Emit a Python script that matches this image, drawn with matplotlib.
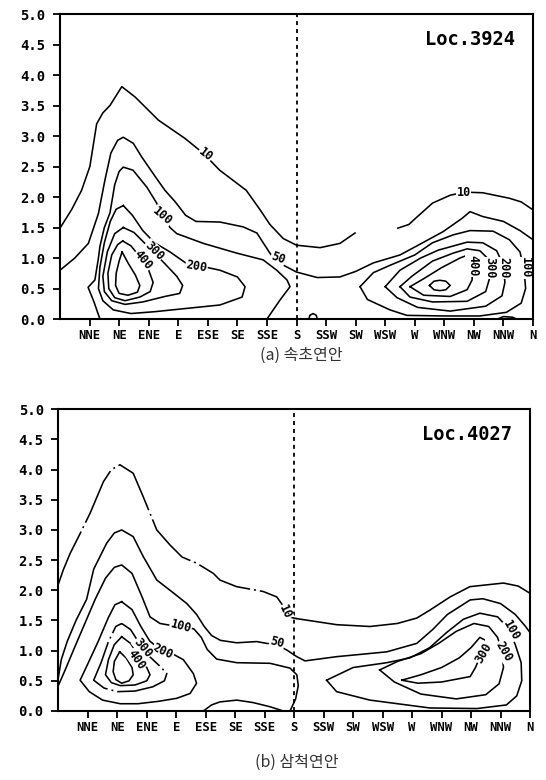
import matplotlib
matplotlib.use('Agg')
import matplotlib.pyplot as plt

# wave direction (x index, 0 = N at left edge) and wave height (m)
DIRS = ['NNE', 'NE', 'ENE', 'E', 'ESE', 'SE', 'SSE', 'S',
        'SSW', 'SW', 'WSW', 'W', 'WNW', 'NW', 'NNW', 'N']
HEIGHTS = [0.0, 0.5, 1.0, 1.5, 2.0, 2.5, 3.0, 3.5, 4.0, 4.5, 5.0]

# ---- (a) Loc.3924 : contour lines, (direction, height)
A_10_W = [(0, 1.49), (0.4, 1.8), (0.73, 2.11), (1.01, 2.5), (1.24, 3.2), (1.45, 3.38),
          (1.69, 3.5), (2.09, 3.81), (2.54, 3.64), (3.33, 3.26), (4.23, 2.96), (4.84, 2.72),
          (5.4, 2.44), (6.3, 2.11), (6.77, 1.79), (7.1, 1.55), (7.55, 1.32), (8.0, 1.21),
          (8.8, 1.17), (9.47, 1.24), (9.98, 1.41)]
A_10_E = [(11.43, 1.49), (11.8, 1.55), (12.07, 1.67), (12.6, 1.9), (13.2, 2.03), (13.7, 2.08),
          (14.3, 2.07), (15.2, 1.98), (15.6, 1.92), (16.0, 1.79)]
A_50 = [(0, 0.8), (0.5, 1.0), (0.96, 1.24), (1.3, 1.73), (1.52, 2.28), (1.72, 2.72),
        (1.95, 2.93), (2.14, 2.98), (2.48, 2.88), (2.76, 2.66), (3.2, 2.35), (3.55, 2.11),
        (3.9, 1.92), (4.25, 1.7), (4.6, 1.6), (5.41, 1.59), (6.2, 1.51), (6.66, 1.41),
        (7.1, 1.08), (7.33, 0.94), (8.0, 0.77), (8.7, 0.68), (9.47, 0.69), (10.0, 0.78),
        (10.6, 0.92), (11.5, 1.05), (12.0, 1.18), (12.95, 1.43), (13.6, 1.65), (13.87, 1.76),
        (14.3, 1.68), (15.0, 1.6), (15.56, 1.45), (16.0, 1.3)]
A_100_W = [(1.35, 0.0), (1.15, 0.28), (0.95, 0.52), (1.18, 0.64), (1.3, 1.0), (1.35, 1.19),
           (1.5, 1.5), (1.69, 1.74), (1.85, 2.2), (2.0, 2.42), (2.14, 2.49), (2.47, 2.44),
           (2.94, 2.16), (3.27, 1.9), (3.5, 1.67), (3.72, 1.5), (3.95, 1.4), (4.85, 1.24),
           (5.98, 1.08), (6.87, 0.97), (7.33, 0.8), (7.68, 0.64), (7.78, 0.53), (7.44, 0.31),
           (7.0, 0.0)]
A_200_W = [(2.14, 1.86), (2.45, 1.7), (2.8, 1.45), (3.2, 1.25), (3.72, 1.1), (4.28, 0.91),
           (4.74, 0.87), (5.41, 0.8), (6.0, 0.69), (6.26, 0.53), (6.16, 0.36), (5.41, 0.23),
           (4.2, 0.17), (3.2, 0.12), (2.4, 0.09), (1.8, 0.15), (1.45, 0.3), (1.3, 0.5),
           (1.35, 0.85), (1.5, 1.25), (1.7, 1.6), (1.9, 1.8), (2.14, 1.86)]
A_300_W = [(2.14, 1.5), (2.5, 1.42), (2.85, 1.25), (3.2, 1.08), (3.6, 0.88), (3.95, 0.7),
           (4.15, 0.55), (4.05, 0.42), (3.55, 0.37), (2.8, 0.28), (2.2, 0.24), (1.75, 0.3),
           (1.5, 0.45), (1.45, 0.7), (1.6, 1.1), (1.85, 1.4), (2.14, 1.5)]
A_400_W = [(2.12, 1.28), (2.4, 1.2), (2.7, 1.02), (3.0, 0.8), (3.15, 0.6), (3.05, 0.45),
           (2.7, 0.36), (2.2, 0.3), (1.85, 0.35), (1.65, 0.5), (1.62, 0.75), (1.75, 1.05),
           (1.95, 1.22), (2.12, 1.28)]
A_500_W = [(2.1, 1.1), (2.3, 0.92), (2.55, 0.72), (2.7, 0.55), (2.62, 0.44), (2.3, 0.39),
           (2.0, 0.42), (1.88, 0.55), (1.9, 0.75), (2.0, 0.95), (2.1, 1.1)]
A_100_E = [(10.15, 0.53), (10.6, 0.76), (11.16, 0.88), (12.0, 1.05), (12.6, 1.25), (13.3, 1.38),
           (13.87, 1.45), (14.65, 1.44), (15.2, 1.3), (15.56, 1.1), (15.7, 0.8), (15.75, 0.5),
           (15.6, 0.26), (15.1, 0.11), (14.2, 0.05), (13.0, 0.05), (11.73, 0.06), (11.16, 0.15),
           (10.4, 0.32), (10.15, 0.53)]
A_200_E = [(11.0, 0.53), (11.5, 0.8), (12.2, 1.0), (12.8, 1.13), (13.77, 1.26), (14.3, 1.25),
           (14.77, 1.12), (15.0, 0.88), (15.05, 0.6), (14.95, 0.38), (14.4, 0.21), (13.2, 0.13),
           (12.1, 0.19), (11.4, 0.35), (11.0, 0.53)]
A_300_E = [(11.5, 0.53), (11.9, 0.7), (12.6, 0.95), (13.3, 1.08), (13.77, 1.15), (14.2, 1.12),
           (14.5, 0.98), (14.55, 0.7), (14.4, 0.45), (13.77, 0.29), (12.6, 0.28), (11.84, 0.36),
           (11.5, 0.53)]
A_400_E = [(11.84, 0.53), (12.3, 0.66), (12.9, 0.84), (13.53, 1.0), (13.8, 1.05), (13.95, 0.85),
           (13.94, 0.64), (13.77, 0.48), (13.2, 0.37), (12.3, 0.39), (11.84, 0.53)]
A_500_E = [(12.5, 0.55), (12.65, 0.62), (12.85, 0.635), (13.05, 0.62), (13.2, 0.55),
           (13.05, 0.48), (12.85, 0.465), (12.65, 0.48), (12.5, 0.55)]
A_SMALL_1 = [(8.42, 0.0), (8.45, 0.06), (8.56, 0.09), (8.67, 0.06), (8.7, 0.0)]
A_SMALL_2 = [(14.8, 0.0), (15.0, 0.04), (15.3, 0.03), (15.45, 0.0)]
A_SOLID = [A_10_W, A_10_E, A_50, A_100_W, A_200_W, A_300_W, A_400_W, A_500_W,
           A_100_E, A_200_E, A_300_E, A_400_E, A_500_E, A_SMALL_1, A_SMALL_2]
A_DASHED = []

A_LABELS = [('10', 4.92, 2.7), ('100', 3.45, 1.68), ('200', 4.62, 0.87), ('300', 3.18, 1.12),
            ('400', 2.82, 0.97), ('50', 7.38, 1.0), ('10', 13.65, 2.07), ('400', 13.95, 0.88),
            ('300', 14.53, 0.84), ('200', 15.02, 0.84), ('100', 15.73, 0.84)]
A_LABEL_ROT = [-38, -40, -10, -45, -50, -20, 0, -90, -90, -90, -90]

# ---- (b) Loc.4027
B_10_W = [(0, 2.1), (0.17, 2.34), (0.4, 2.61), (0.74, 2.94), (1.08, 3.28), (1.53, 3.8),
          (1.8, 4.0), (2.09, 4.08), (2.54, 3.94), (2.88, 3.55), (3.34, 3.0), (3.79, 2.75),
          (4.2, 2.55), (4.69, 2.45), (5.26, 2.28), (5.48, 2.17), (6.05, 2.06), (6.95, 1.98),
          (7.41, 1.89), (7.6, 1.76), (7.75, 1.62), (7.9, 1.55), (8.09, 1.53)]
B_10_E = [(8.09, 1.53), (9.44, 1.43), (10.57, 1.4), (11.5, 1.45), (12.16, 1.54), (12.6, 1.67),
          (13.29, 1.89), (13.96, 2.06), (15.1, 2.12), (15.6, 2.07), (16.0, 1.95)]
B_50 = [(0, 0.55), (0.1, 0.85), (0.3, 1.15), (0.6, 1.5), (0.96, 1.85), (1.2, 2.35),
        (1.64, 2.78), (1.9, 2.95), (2.15, 3.0), (2.54, 2.89), (2.88, 2.56), (3.34, 2.17),
        (3.79, 2.0), (4.36, 1.78), (4.69, 1.6), (4.95, 1.4), (5.2, 1.25), (5.5, 1.17),
        (6.05, 1.13), (6.73, 1.15), (7.07, 1.12), (7.4, 1.1), (7.75, 1.01), (8.09, 0.9),
        (8.37, 0.83), (9.44, 0.9), (10.3, 0.94), (11.14, 0.98), (12.16, 1.12), (12.7, 1.35),
        (13.2, 1.6), (13.97, 1.84), (14.4, 1.86), (15.0, 1.78), (15.5, 1.6), (15.85, 1.4),
        (16.0, 1.3)]
B_100_W = [(0, 0.42), (0.25, 0.7), (0.55, 1.05), (0.9, 1.45), (1.25, 1.85), (1.6, 2.2),
           (1.9, 2.38), (2.15, 2.42), (2.5, 2.28), (2.85, 1.88), (3.11, 1.56), (3.45, 1.45),
           (3.8, 1.42), (4.2, 1.4), (4.6, 1.36), (4.85, 1.22), (5.05, 1.02), (5.37, 0.86),
           (6.05, 0.8), (7.18, 0.79), (7.86, 0.71), (8.09, 0.6), (8.14, 0.42), (8.05, 0.2),
           (7.86, 0.0)]
B_200_W = [(2.15, 1.81), (2.5, 1.68), (2.8, 1.4), (3.1, 1.16), (3.5, 1.0), (3.79, 0.97),
           (4.24, 0.85), (4.58, 0.62), (4.69, 0.46), (4.47, 0.29), (4.02, 0.21), (3.4, 0.16),
           (2.7, 0.12), (2.1, 0.12), (1.5, 0.18), (1.05, 0.32), (0.74, 0.51), (1.0, 0.78),
           (1.35, 1.15), (1.7, 1.55), (1.92, 1.76), (2.15, 1.81)]
B_300_W = [(2.15, 1.45), (2.45, 1.35), (2.75, 1.12), (3.1, 0.9), (3.45, 0.74), (3.68, 0.62),
           (3.6, 0.5), (3.2, 0.4), (2.6, 0.33), (2.0, 0.32), (1.55, 0.38), (1.2, 0.51),
           (1.45, 0.8), (1.7, 1.15), (1.95, 1.4), (2.15, 1.45)]
B_400_W = [(2.15, 1.23), (2.45, 1.12), (2.75, 0.9), (3.0, 0.72), (3.11, 0.6), (3.0, 0.5),
           (2.6, 0.43), (2.1, 0.42), (1.8, 0.47), (1.6, 0.6), (1.7, 0.85), (1.9, 1.1),
           (2.15, 1.23)]
B_500_W = [(2.08, 0.98), (2.3, 0.88), (2.5, 0.72), (2.54, 0.6), (2.4, 0.5), (2.15, 0.46),
           (1.95, 0.52), (1.86, 0.65), (1.9, 0.82), (2.08, 0.98)]
B_SMALL = [(4.92, 0.0), (5.2, 0.1), (5.48, 0.15), (6.05, 0.18), (6.6, 0.14), (7.18, 0.07),
           (7.63, 0.0)]
B_100_E = [(9.1, 0.51), (10.0, 0.72), (11.14, 0.8), (11.93, 0.88), (12.6, 1.05), (13.17, 1.3),
           (13.74, 1.52), (14.3, 1.62), (14.9, 1.56), (15.25, 1.38), (15.5, 1.1), (15.7, 0.8),
           (15.72, 0.5), (15.55, 0.25), (15.2, 0.1), (14.2, 0.04), (12.6, 0.05), (10.57, 0.18),
           (9.44, 0.32), (9.1, 0.51)]
B_200_E = [(10.9, 0.68), (11.5, 0.82), (12.3, 0.95), (12.9, 1.12), (13.5, 1.32), (14.1, 1.45),
           (14.6, 1.4), (14.9, 1.22), (15.05, 0.98), (15.1, 0.72), (14.95, 0.45), (14.5, 0.27),
           (13.5, 0.2), (12.3, 0.28), (11.4, 0.48), (10.9, 0.68)]
B_300_E = [(11.65, 0.51), (12.3, 0.6), (13.0, 0.72), (13.6, 0.88), (14.0, 1.05), (14.3, 1.22),
           (14.45, 1.18), (14.35, 0.95), (14.15, 0.72), (13.97, 0.57), (13.0, 0.48), (12.2, 0.46),
           (11.65, 0.51)]
B_SOLID = [B_10_E, B_50, B_100_W, B_200_W, B_400_W, B_500_W, B_SMALL,
           B_100_E, B_200_E, B_300_E]
B_DASHED = [B_10_W, B_300_W]

B_LABELS = [('10', 7.68, 1.64), ('50', 7.42, 1.13), ('100', 4.15, 1.4), ('200', 3.55, 0.98),
            ('300', 2.88, 1.05), ('400', 2.65, 0.85), ('100', 15.35, 1.33), ('200', 15.12, 0.99),
            ('300', 14.42, 0.96)]
B_LABEL_ROT = [-65, -15, -15, -25, -50, -55, -60, -60, 60]

MONO = 'DejaVu Sans Mono'


def draw_panel(ax, solid, dashed, labels, rots, loc):
    for pts in solid:
        ax.plot([p[0] for p in pts], [p[1] for p in pts], color='k', lw=1.15,
                solid_joinstyle='round')
    # the scanned plot has a few broken (dash-dot) contours
    for pts in dashed:
        ax.plot([p[0] for p in pts], [p[1] for p in pts], color='k', lw=1.15,
                ls=(0, (36, 2.5, 1.2, 2.5)))
    for (txt, x, y), r in zip(labels, rots):
        ax.text(x, y, txt, rotation=r, ha='center', va='center', fontsize=8.5,
                family=MONO, weight='bold', zorder=4,
                bbox=dict(facecolor='white', edgecolor='none', pad=0.4))
    # south direction marker
    ax.axvline(8, color='k', lw=1.3, ls=(0, (2.2, 2.2)))
    ax.set_xlim(0, 16)
    ax.set_ylim(0, 5)
    ax.set_xticks(range(1, 17))
    ax.set_xticklabels(DIRS, family=MONO, weight='bold', fontsize=8.8)
    ax.set_yticks(HEIGHTS)
    ax.set_yticklabels(['%.1f' % h for h in HEIGHTS], family=MONO, weight='bold', fontsize=10)
    ax.tick_params(axis='x', direction='out', length=5, width=1.3, pad=2)
    ax.tick_params(axis='y', direction='out', length=5, width=1.3, pad=5.5)
    for s in ax.spines.values():
        s.set_linewidth(1.5)
    ax.text(0.962, 0.918, loc, transform=ax.transAxes, ha='right', va='center',
            fontsize=13.5, family=MONO, weight='bold')


fig = plt.figure(figsize=(5.46, 7.80), dpi=100)
ax_a = fig.add_axes([0.1099, 0.591, 0.8663, 0.391])
ax_b = fig.add_axes([0.1068, 0.0885, 0.8639, 0.3868])

draw_panel(ax_a, A_SOLID, A_DASHED, A_LABELS, A_LABEL_ROT, 'Loc.3924')
draw_panel(ax_b, B_SOLID, B_DASHED, B_LABELS, B_LABEL_ROT, 'Loc.4027')

kr = ['Noto Sans CJK KR', 'DejaVu Sans']
fig.text(301 / 546, 1 - 355 / 780, '(a) 속초연안', ha='center', va='center',
         fontsize=11.5, family=kr, color='#333333')
fig.text(297 / 546, 1 - 762 / 780, '(b) 삼척연안', ha='center', va='center',
         fontsize=11.5, family=kr, color='#333333')

fig.savefig('out.png', dpi=100)
